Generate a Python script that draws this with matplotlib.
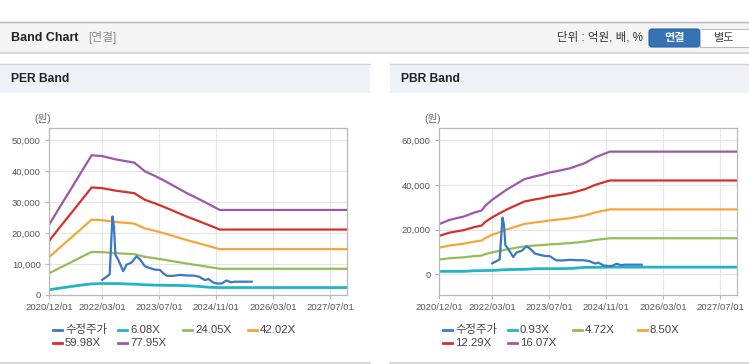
import pandas as pd
import matplotlib
matplotlib.use("Agg")
import matplotlib.pyplot as plt
from matplotlib.patches import Rectangle, FancyBboxPatch

plt.rcParams['font.family'] = ['Liberation Sans', 'Noto Sans CJK KR']

# 수정주가 (same series on both charts)
price_dates = ["2022-03-01", "2022-04-07", "2022-04-25", "2022-05-04", "2022-05-28",
               "2022-06-10", "2022-06-22", "2022-07-16", "2022-08-28", "2022-09-25",
               "2022-11-07", "2022-12-19", "2023-01-19", "2023-03-01", "2023-04-13",
               "2023-05-25", "2023-07-07", "2023-08-04", "2023-09-04", "2023-11-01",
               "2023-12-25", "2024-02-21", "2024-04-19", "2024-06-07", "2024-07-29",
               "2024-08-25", "2024-10-07", "2024-11-16", "2024-12-16", "2025-01-28",
               "2025-03-08", "2025-04-10", "2025-08-31"]
price = [4900, 5900, 6400, 6700, 25400, 22000, 13000, 11400, 7700, 9800,
         10500, 12500, 11500, 9300, 8700, 8200, 8100, 7100, 6200, 6200,
         6500, 6300, 6300, 5900, 4800, 5200, 4000, 3700, 3700, 4700,
         4100, 4300, 4300]

# PER band
per_dates = ["2020-12-01", "2021-03-01", "2021-06-01", "2021-09-01", "2021-12-01",
             "2022-03-01", "2022-07-01", "2022-12-01", "2023-03-01", "2023-06-01",
             "2023-09-01", "2023-12-01", "2024-03-01", "2024-06-01", "2024-09-01",
             "2024-12-01", "2027-12-01"]
per_labels = ["6.08X", "24.05X", "42.02X", "59.98X", "77.95X"]
per_6 = [1700, 2200, 2700, 3200, 3600, 3700, 3700, 3500, 3300, 3200,
         3100, 3100, 3000, 2800, 2500, 2400, 2400]
per_24 = [6990, 8730, 10460, 12220, 13940, 13850, 13510, 13200, 12340, 11850,
          11290, 10700, 10120, 9590, 9040, 8480, 8480]
per_42 = [12210, 15250, 18270, 21340, 24360, 24200, 23610, 23070, 21560, 20700,
          19730, 18700, 17680, 16760, 15790, 14820, 14820]
per_60 = [17430, 21780, 26090, 30470, 34780, 34550, 33700, 32930, 30780, 29550,
          28160, 26700, 25240, 23930, 22550, 21160, 21160]
per_78 = [22650, 28300, 33900, 39600, 45200, 44900, 43800, 42800, 40000, 38400,
          36600, 34700, 32800, 31100, 29300, 27500, 27500]

# PBR band
pbr_dates = ["2020-12-01", "2021-03-01", "2021-07-01", "2021-10-01", "2021-12-01",
             "2022-01-01", "2022-03-01", "2022-07-01", "2022-12-01", "2023-03-01",
             "2023-05-01", "2023-07-01", "2023-09-01", "2024-01-01", "2024-05-01",
             "2024-08-01", "2024-12-01", "2027-12-01"]
pbr_labels = ["0.93X", "4.72X", "8.50X", "12.29X", "16.07X"]
pbr_093 = [1300, 1300, 1300, 1600, 1600, 1700, 1700, 2100, 2200, 2500,
           2500, 2500, 2500, 2600, 3100, 3100, 3200, 3200]
pbr_472 = [6590, 7170, 7610, 8140, 8400, 9020, 9810, 11130, 12530, 12890,
           13100, 13390, 13570, 13980, 14640, 15420, 16150, 16150]
pbr_850 = [11870, 12910, 13700, 14650, 15130, 16240, 17670, 20050, 22560, 23220,
           23590, 24120, 24440, 25180, 26370, 27770, 29090, 29090]
pbr_1229 = [17170, 18660, 19810, 21180, 21870, 23480, 25540, 28990, 32620, 33570,
            34110, 34870, 35330, 36400, 38120, 40150, 42060, 42060]
pbr_1607 = [22450, 24400, 25900, 27700, 28600, 30700, 33400, 37900, 42650, 43900,
            44600, 45600, 46200, 47600, 49850, 52500, 55000, 55000]

tick_dates = ["2020-12-01", "2022-03-01", "2023-07-01", "2024-11-01", "2026-03-01", "2027-07-01"]
tick_labels = ["2020/12/01", "2022/03/01", "2023/07/01", "2024/11/01", "2026/03/01", "2027/07/01"]

price_color = '#3a78c6'
band_colors = ['#22b4c6', '#93bd55', '#f5a63a', '#d3312c', '#9a58a6']

W, H = 749, 364
fig = plt.figure(figsize=(W / 100, H / 100), dpi=100)

# page decoration (pixel coordinates)
bg = fig.add_axes([0, 0, 1, 1], zorder=0)
bg.set_xlim(0, W)
bg.set_ylim(H, 0)
bg.axis('off')
bg.add_patch(Rectangle((0, 22), W, 30, fc='#f4f4f4', ec='none'))
bg.plot([0, W], [22, 22], color='#b5b5b5', lw=1)
bg.plot([0, W], [52.5, 52.5], color='#d2d2d2', lw=1.2)
bg.text(11, 38, "Band Chart", fontsize=9, fontweight='bold', color='#222', va='center')
bg.text(88, 38, "[연결]", fontsize=8.5, color='#8a8a8a', va='center')
bg.text(643, 38, "단위 : 억원, 배, %", fontsize=8.3, color='#333', va='center', ha='right')
bg.add_patch(FancyBboxPatch((649, 29), 51, 18, boxstyle="round,pad=0,rounding_size=3",
                            fc='#3572b6', ec='#2d639f', lw=0.8))
bg.add_patch(Rectangle((700, 29), 52, 18, fc='white', ec='#bdbdbd', lw=0.8))
bg.text(674.5, 38, "연결", fontsize=8, fontweight='bold', color='white', ha='center', va='center')
bg.text(724, 38, "별도", fontsize=8, color='#444', ha='center', va='center')

for x0, x1, name in [(0, 370, "PER Band"), (390, W, "PBR Band")]:
    bg.add_patch(Rectangle((x0, 64), x1 - x0, 29, fc='#eef2f7', ec='none'))
    bg.plot([x0, x1], [64, 64], color='#d3d3d3', lw=1)
    bg.plot([x0, x1], [363, 363], color='#d0d0d0', lw=1.2)
    bg.text(x0 + 11, 79, name, fontsize=8.7, fontweight='bold', color='#222', va='center')


def band_panel(left_px, dates, bands, labels, yticks, ylim):
    ax = fig.add_axes([left_px / W, (H - 295) / H, 298 / W, 167 / H], zorder=1)
    ax.set_facecolor('white')
    d = pd.to_datetime(dates)
    for vals, c in zip(bands, band_colors):
        ax.plot(d, vals, color=c, lw=2.0 if c == band_colors[0] else 1.6, solid_capstyle='butt')
    ax.plot(pd.to_datetime(price_dates), price, color=price_color, lw=1.6)
    ax.set_xlim(pd.Timestamp("2020-12-01"), pd.Timestamp("2027-11-24"))
    ax.set_ylim(*ylim)
    ax.set_xticks(pd.to_datetime(tick_dates))
    ax.set_xticklabels(tick_labels)
    ax.set_yticks(yticks)
    ax.set_yticklabels([f"{v:,}" for v in yticks])
    ax.grid(True, color='#e6e6e6', lw=0.8)
    ax.set_axisbelow(True)
    for s in ax.spines.values():
        s.set_color('#b8b8b8')
        s.set_linewidth(0.9)
    ax.tick_params(axis='both', colors='#b8b8b8', labelcolor='#555', labelsize=6.8,
                   length=3, width=0.8, pad=3)
    # unit label and legend
    bg.text(left_px - 6, 118, "(원)", fontsize=7.5, color='#666', ha='center', va='center')
    items = [("수정주가", price_color)] + list(zip(labels, band_colors))
    for i, (lab, c) in enumerate(items):
        lx = left_px + 4 + (i % 4) * 65
        ly = 330 + (i // 4) * 13
        bg.plot([lx, lx + 9], [ly, ly], color=c, lw=2)
        bg.text(lx + 12, ly, lab, fontsize=8.2, color='#444', va='center')
    return ax


band_panel(49, per_dates, [per_6, per_24, per_42, per_60, per_78], per_labels,
           [0, 10000, 20000, 30000, 40000, 50000], (0, 54000))
band_panel(439, pbr_dates, [pbr_093, pbr_472, pbr_850, pbr_1229, pbr_1607], pbr_labels,
           [0, 20000, 40000, 60000], (-9300, 65600))

fig.savefig("out.png", dpi=100)
